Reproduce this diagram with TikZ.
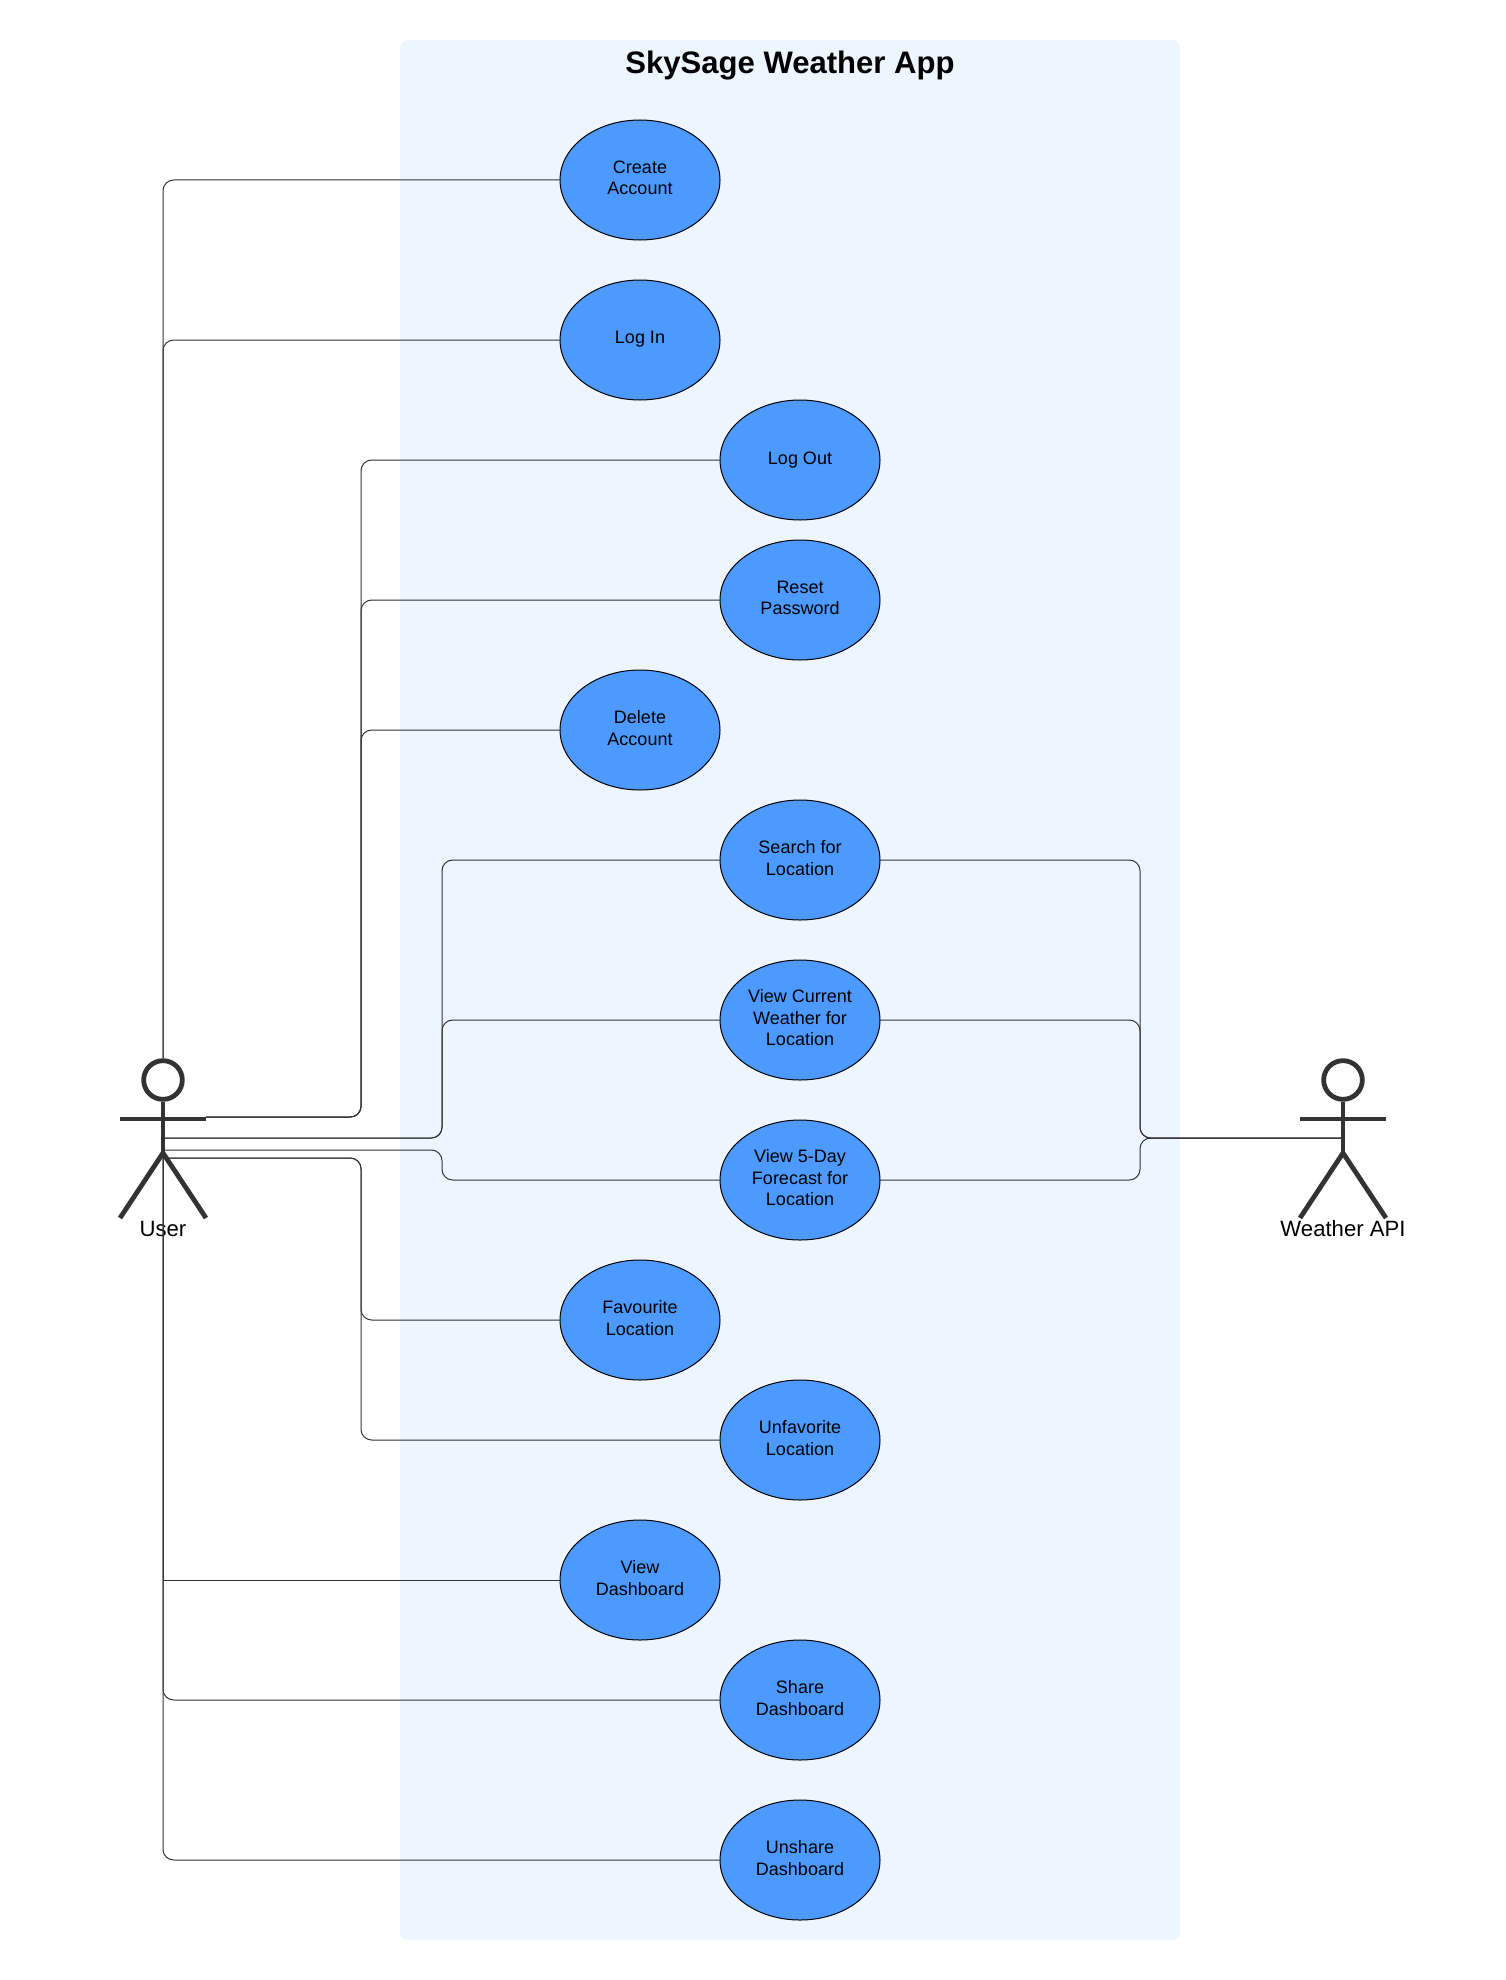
\documentclass[tikz,border=0pt]{standalone}
\usepackage{fontspec}
\setmainfont{Liberation Sans}
\usetikzlibrary{shapes.geometric}
\definecolor{SkyFill}{HTML}{EDF5FE}
\definecolor{SkyBlue}{HTML}{4C9AFF}
\definecolor{SkyLine}{HTML}{333333}
\begin{document}
\begin{tikzpicture}[
    x=0.75pt,y=-0.75pt,
    usecase/.style={ellipse,draw=black,line width=0.75pt,fill=SkyBlue,minimum width=120pt,minimum height=90pt,inner sep=0pt,outer sep=0pt,align=center,text depth=3.3pt,font=\fontsize{13.5}{16.1}\selectfont},
    link/.style={SkyLine,line width=0.75pt,rounded corners=8pt},
    head/.style={circle,draw=SkyLine,line width=3.6pt,minimum size=29pt,inner sep=0pt,outer sep=1.8pt},
    limb/.style={SkyLine,line width=3.6pt},
    actorname/.style={font=\fontsize{16.6}{20}\selectfont}
  ]
    \useasboundingbox (0,0) rectangle (1505.5,1980);
    \node[fill=SkyFill,rounded corners=6pt,minimum width=585pt,minimum height=1425pt,inner sep=0pt,outer sep=0pt] (system) at (790,990) {};
    \node[font=\fontsize{23.3}{27}\selectfont\bfseries] (title) at (790,65.5) {SkySage Weather App};

    \node[usecase] (create) at (640,180) {Create\\Account};
    \node[usecase] (login) at (640,340) {Log In};
    \node[usecase] (logout) at (800,460) {Log Out};
    \node[usecase] (reset) at (800,600) {Reset\\Password};
    \node[usecase] (delete) at (640,730) {Delete\\Account};
    \node[usecase] (search) at (800,860) {Search for\\Location};
    \node[usecase] (current) at (800,1020) {View Current\\Weather for\\Location};
    \node[usecase] (forecast) at (800,1180) {View 5-Day\\Forecast for\\Location};
    \node[usecase] (favourite) at (640,1320) {Favourite\\Location};
    \node[usecase] (unfavorite) at (800,1440) {Unfavorite\\Location};
    \node[usecase] (dashboard) at (640,1580) {View\\Dashboard};
    \node[usecase] (share) at (800,1700) {Share\\Dashboard};
    \node[usecase] (unshare) at (800,1860) {Unshare\\Dashboard};

    % user figure
    \node[head] (userhead) at (163,1080) {};
    \coordinate (userarm) at (206,1119);
    \coordinate (userhip) at (163,1153);
    \node[actorname] (user) at (163,1229) {User};
    % weather figure
    \node[head] (apihead) at (1343,1080) {};
    \coordinate (apiarm) at (1386,1119);
    \coordinate (apihip) at (1343,1153);
    \node[actorname] (api) at (1343,1229) {Weather API};

    \coordinate (busa) at (361,1117);
    \coordinate (busb) at (442,1138);
    \coordinate (busc) at (1140,1138);
    \coordinate (userb) at (165,1138);
    \coordinate (userc) at (165,1150);
    \coordinate (userd) at (165,1158);
    \coordinate (apib) at (1341,1138);

    \draw[link] (userhead.north) |- (create.west);
    \draw[link] (userhead.north) |- (login.west);
    \draw[link] (userarm |- busa) -- (busa) -- (busa |- logout.west) -- (logout.west);
    \draw[link] (userarm |- busa) -- (busa) -- (busa |- reset.west) -- (reset.west);
    \draw[link] (userarm |- busa) -- (busa) -- (busa |- delete.west) -- (delete.west);
    \draw[link] (userb) -- (busb) -- (busb |- search.west) -- (search.west);
    \draw[link] (userb) -- (busb) -- (busb |- current.west) -- (current.west);
    \draw[link] (userc) -- (busb |- userc) -- (busb |- forecast.west) -- (forecast.west);
    \draw[link] (userd) -- (busa |- userd) -- (busa |- favourite.west) -- (favourite.west);
    \draw[link] (userd) -- (busa |- userd) -- (busa |- unfavorite.west) -- (unfavorite.west);
    \draw[link,rounded corners=0pt] (userhip) |- (dashboard.west);
    \draw[link] (userhip) |- (share.west);
    \draw[link] (userhip) |- (unshare.west);
    \draw[link] (search.east) -- (busc |- search.east) -- (busc) -- (apib);
    \draw[link] (current.east) -- (busc |- current.east) -- (busc) -- (apib);
    \draw[link] (forecast.east) -- (busc |- forecast.east) -- (busc) -- (apib);

    \draw[limb] (userhead.south) -- (userhip);
    \draw[limb] (120,1119) -- (userarm);
    \draw[limb] (120,1218) -- (userhip) -- (206,1218);
    \draw[limb] (apihead.south) -- (apihip);
    \draw[limb] (1300,1119) -- (apiarm);
    \draw[limb] (1300,1218) -- (apihip) -- (1386,1218);
  \end{tikzpicture}
\end{document}
